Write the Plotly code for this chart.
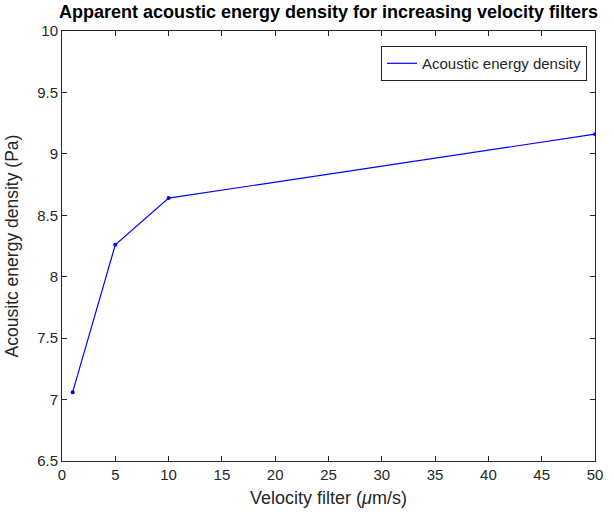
import plotly.graph_objects as go

velocity = [1, 5, 10, 50]
energy = [7.06, 8.26, 8.64, 9.16]

FONT = "Liberation Sans, Arial, Helvetica"
TXT = "#262626"

fig = go.Figure()
# line (shown in legend)
fig.add_trace(go.Scatter(
    x=velocity, y=energy, mode="lines",
    name="Acoustic energy density",
    line=dict(color="#0000ff", width=1.2),
))
# point markers
fig.add_trace(go.Scatter(
    x=velocity, y=energy, mode="markers", showlegend=False,
    marker=dict(color="#0000ff", size=4),
    hoverinfo="skip",
))

axis_common = dict(
    showgrid=False, zeroline=False, showline=True, linecolor=TXT,
    linewidth=1, mirror="ticks", ticks="inside", ticklen=5, tickcolor=TXT,
    tickfont=dict(family=FONT, size=15, color=TXT),
)

fig.update_layout(
    width=614, height=521,
    margin=dict(l=62, r=11, t=31, b=60),
    paper_bgcolor="white", plot_bgcolor="white",
    title=dict(text="<b>Apparent acoustic energy density for increasing velocity filters</b>",
               x=0.535, xanchor="center", yref="container", y=0.977, yanchor="middle",
               font=dict(family=FONT, size=18, color="black")),
    xaxis=dict(range=[0, 50], dtick=5, tick0=0,
               title=dict(text="Velocity filter (<i>μ</i>m/s)", standoff=9,
                          font=dict(family=FONT, size=18, color=TXT)),
               **axis_common),
    yaxis=dict(range=[6.5, 10], dtick=0.5, tick0=6.5,
               title=dict(text="Acousitc energy density (Pa)", standoff=14,
                          font=dict(family=FONT, size=17.5, color=TXT)),
               **axis_common),
    legend=dict(x=0.985, y=0.965, xanchor="right", yanchor="top",
                bordercolor=TXT, borderwidth=1, bgcolor="white",
                font=dict(family=FONT, size=15, color=TXT)),
    showlegend=True,
)

fig.write_html("out.html", config={"displayModeBar": False},
               post_script="document.body.style.margin='0';document.body.style.overflow='hidden';")
